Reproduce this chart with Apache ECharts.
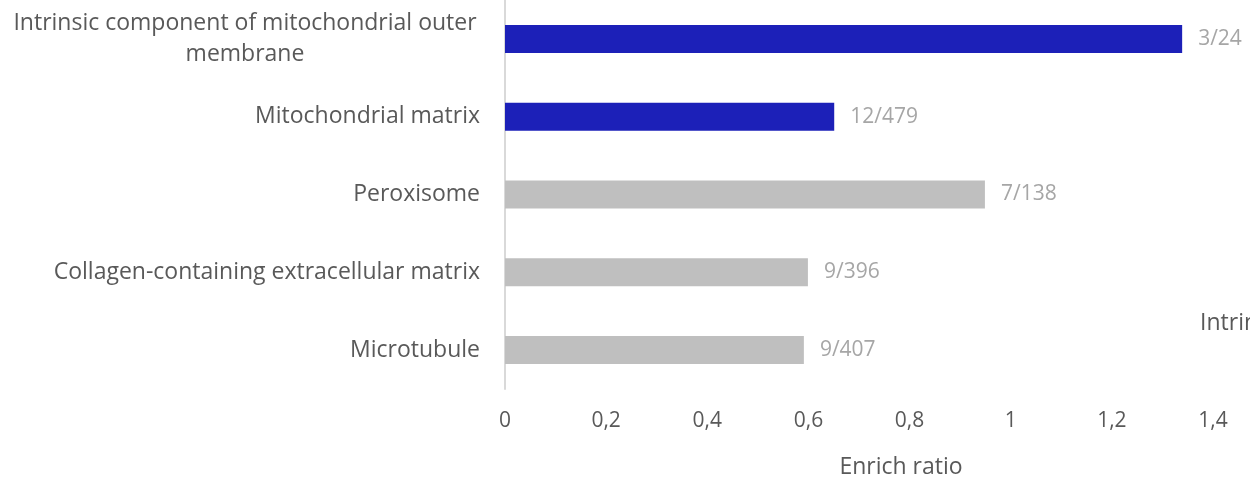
<!DOCTYPE html>
<html>
<head>
<meta charset="utf-8">
<script src="https://cdn.jsdelivr.net/npm/echarts@6/dist/echarts.min.js"></script>
<style>
  html, body { margin: 0; padding: 0; background: #fff; }
  #chart { width: 1250px; height: 480px; }
</style>
</head>
<body>
<div id="chart"></div>
<script>
// categories top to bottom
const categories = [
  'Intrinsic component of mitochondrial outer membrane',
  'Mitochondrial matrix',
  'Peroxisome',
  'Collagen-containing extracellular matrix',
  'Microtubule'
];
const enrichRatio = [1.339, 0.651, 0.949, 0.599, 0.591];
const hitLabels = ['3/24', '12/479', '7/138', '9/396', '9/407'];
const barColors = ['#1c20b8', '#1c20b8', '#bfbfbf', '#bfbfbf', '#bfbfbf'];

const font = '"Open Sans", sans-serif';
const chart = echarts.init(document.getElementById('chart'));

chart.setOption({
  animation: false,
  grid: { left: 505, right: 37, top: -1, bottom: 91, containLabel: false },
  xAxis: {
    type: 'value',
    min: 0,
    max: 1.4,
    interval: 0.2,
    axisLine: { show: false },
    axisTick: { show: false },
    splitLine: { show: false },
    axisLabel: {
      color: '#595959',
      fontSize: 21,
      fontFamily: font,
      margin: 22,
      formatter: v => String(Math.round(v * 10) / 10).replace('.', ',')
    }
  },
  yAxis: {
    type: 'category',
    inverse: true,
    data: categories,
    axisLine: { show: true, lineStyle: { color: '#d9d9d9', width: 2 } },
    axisTick: { show: false },
    axisLabel: {
      color: '#595959',
      fontSize: 23,
      fontFamily: font,
      margin: 25,
      lineHeight: 31,
      formatter: function (v, i) {
        if (i === 0) {
          return '{c|Intrinsic component of mitochondrial outer}\n{c|membrane}';
        }
        return v;
      },
      rich: {
        c: { width: 470, align: 'center', fontSize: 23, fontFamily: font, color: '#595959', lineHeight: 31 }
      }
    }
  },
  series: [{
    type: 'bar',
    barWidth: 28,
    data: enrichRatio.map((v, i) => ({ value: v, itemStyle: { color: barColors[i] } })),
    label: {
      show: true,
      position: 'right',
      distance: 16,
      color: '#a6a6a6',
      fontSize: 21,
      fontFamily: font,
      formatter: p => hitLabels[p.dataIndex]
    }
  }],
  graphic: [
    {
      type: 'text', x: 901, y: 467,
      style: { text: 'Enrich ratio', fill: '#595959', font: '23px ' + font, align: 'center', verticalAlign: 'middle' }
    },
    {
      type: 'text', x: 1200, y: 323,
      style: { text: 'Intrinsic component of mitochondrial outer membrane', fill: '#595959', font: '23px ' + font, align: 'left', verticalAlign: 'middle' }
    }
  ]
});
</script>
</body>
</html>
